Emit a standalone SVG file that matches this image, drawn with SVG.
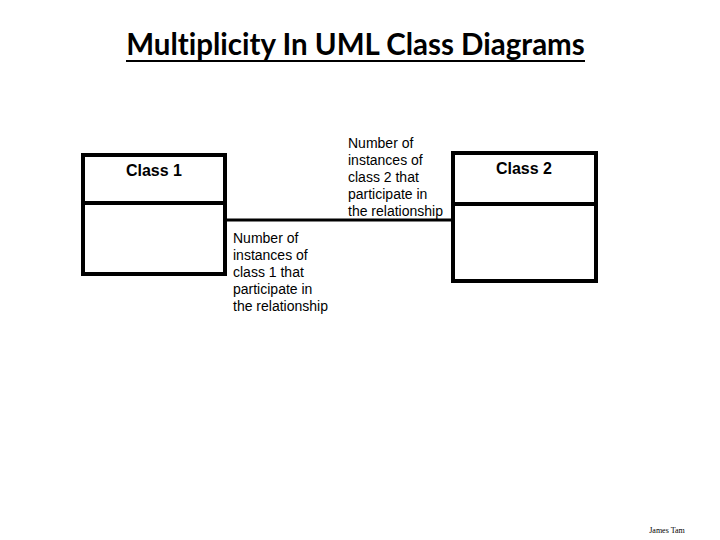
<svg xmlns="http://www.w3.org/2000/svg" width="720" height="540" viewBox="0 0 720 540">
<style>
.box{fill:#fff;stroke:#000;stroke-width:4}
.div{stroke:#000;stroke-width:4}
.cn{font-family:"Liberation Sans",Arial,sans-serif;font-weight:bold;font-size:16px;text-anchor:middle}
.lbl{font-family:"Liberation Sans",Arial,sans-serif;font-size:14px}
.title{font-family:Lato,"Liberation Sans",sans-serif;font-weight:bold;font-size:29.5px;text-anchor:middle;font-variant-ligatures:none}
</style>
<rect width="720" height="540" fill="#fff"/>
<text class="title" x="355.5" y="55">Multiplicity In UML Class Diagrams</text>
<line x1="126" y1="61" x2="585" y2="61" stroke="#000" stroke-width="2"/>
<g id="connectors">
<line x1="225" y1="220" x2="453" y2="220" stroke="#000" stroke-width="3"/>
</g>
<g id="class1">
<rect class="box" x="83" y="155" width="142" height="119"/>
<line class="div" x1="83" y1="203" x2="225" y2="203"/>
<text class="cn" x="154" y="176">Class 1</text>
</g>
<g id="class2">
<rect class="box" x="453" y="153" width="143" height="128"/>
<line class="div" x1="453" y1="204" x2="596" y2="204"/>
<text class="cn" x="524" y="174">Class 2</text>
</g>
<g id="mult2">
<text class="lbl" x="348" y="148">Number of</text>
<text class="lbl" x="348" y="165">instances of</text>
<text class="lbl" x="348" y="182">class 2 that</text>
<text class="lbl" x="348" y="199">participate in</text>
<text class="lbl" x="348" y="216">the relationship</text>
</g>
<g id="mult1">
<text class="lbl" x="233" y="243">Number of</text>
<text class="lbl" x="233" y="260">instances of</text>
<text class="lbl" x="233" y="277">class 1 that</text>
<text class="lbl" x="233" y="294">participate in</text>
<text class="lbl" x="233" y="311">the relationship</text>
</g>
<text x="667" y="533" font-family="Liberation Serif,serif" font-size="8" text-anchor="middle">James Tam</text>
</svg>
